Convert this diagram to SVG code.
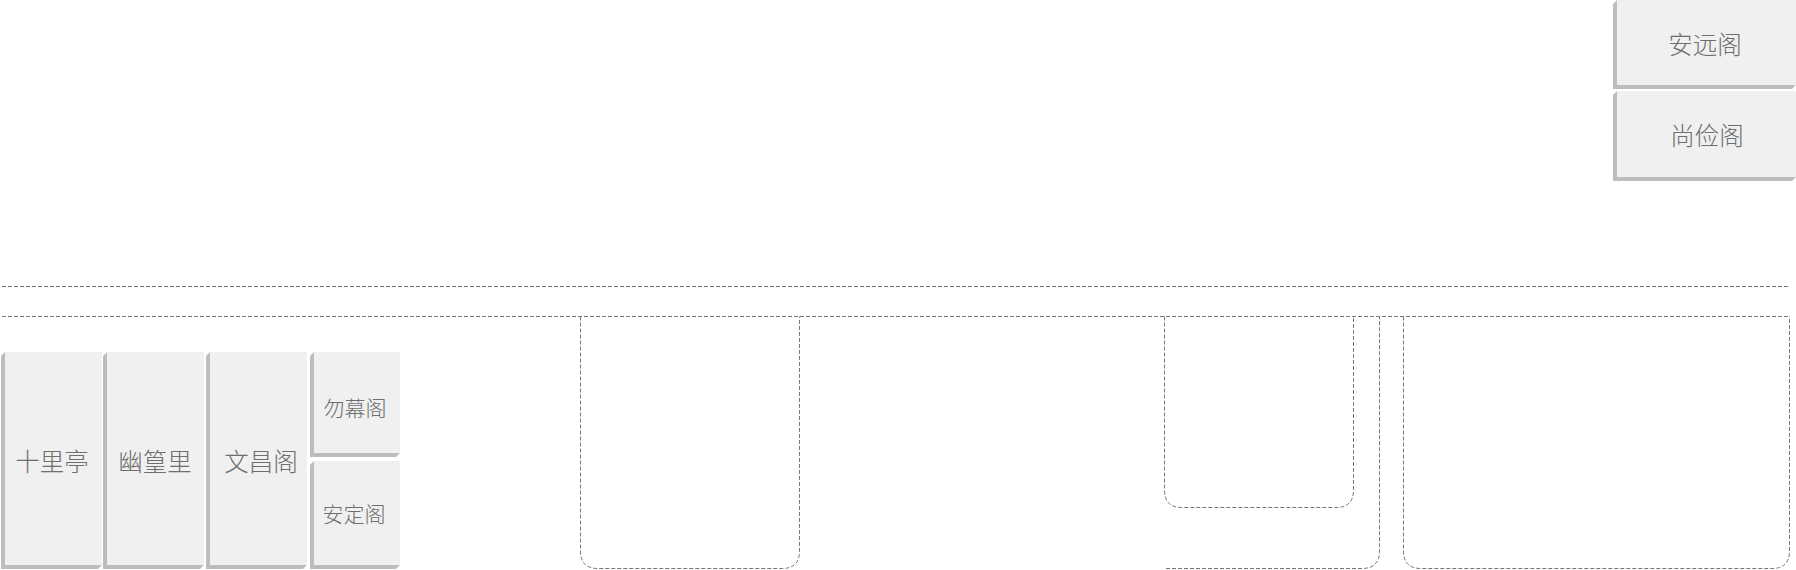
<svg xmlns="http://www.w3.org/2000/svg" width="1796" height="570" viewBox="0 0 1796 570">
<style>
.body{fill:#f0f0f0}
.shadow{fill:#bdbdbd}
.lbl{font-family:"Noto Sans CJK SC","Noto Sans",sans-serif;font-weight:300;fill:#6e6e6e;text-anchor:middle;dominant-baseline:central}
.big{font-size:24.5px}
.small{font-size:21px}
.dash{fill:none;stroke:#777;stroke-width:1;stroke-dasharray:4 2}
</style>
<rect width="1796" height="570" fill="#fff"/>
<g id="connectors">
<path class="dash" d="M2,286.5 H1790"/>
<path class="dash" d="M2,316.5 H1789.5"/>
<path class="dash" d="M580.5,316.5 V551 Q580.5,568.5 598,568.5 H782 Q799.5,568.5 799.5,551 V316.5"/>
<path class="dash" d="M1164.5,316.5 V490 Q1164.5,507.5 1182,507.5 H1336 Q1353.5,507.5 1353.5,490 V316.5"/>
<path class="dash" d="M1166,568.5 H1362 Q1379.5,568.5 1379.5,551 V316.5"/>
<path class="dash" d="M1403.5,316.5 V551 Q1403.5,568.5 1421,568.5 H1772 Q1789.5,568.5 1789.5,551 V316.5"/>
</g>
<g id="anyuange">
<polygon class="shadow" points="1617,0 1613,4 1613,89 1792,89 1796,85"/>
<rect class="body" x="1617" y="0" width="179" height="85"/>
<text class="lbl big" x="1705" y="43">安远阁</text>
</g>
<g id="shangjiange">
<polygon class="shadow" points="1617,91 1613,95 1613,181 1792,181 1796,177"/>
<rect class="body" x="1617" y="91" width="179" height="86"/>
<text class="lbl big" x="1707" y="134">尚俭阁</text>
</g>
<g id="shiliting">
<polygon class="shadow" points="5,352 1,356 1,569 98,569 102,565"/>
<rect class="body" x="5" y="352" width="97" height="213"/>
<text class="lbl big" x="52" y="460">十里亭</text>
</g>
<g id="youhuangli">
<polygon class="shadow" points="107,352 103,356 103,569 200,569 204,565"/>
<rect class="body" x="107" y="352" width="97" height="213"/>
<text class="lbl big" x="155" y="460">幽篁里</text>
</g>
<g id="wenchangge">
<polygon class="shadow" points="210,352 206,356 206,569 303,569 307,565"/>
<rect class="body" x="210" y="352" width="97" height="213"/>
<text class="lbl big" x="261" y="460">文昌阁</text>
</g>
<g id="wumuge">
<polygon class="shadow" points="314,352 310,356 310,457 396,457 400,453"/>
<rect class="body" x="314" y="352" width="86" height="101"/>
<text class="lbl small" x="355" y="407">勿幕阁</text>
</g>
<g id="andingge">
<polygon class="shadow" points="314,461 310,465 310,569 396,569 400,565"/>
<rect class="body" x="314" y="461" width="86" height="104"/>
<text class="lbl small" x="354" y="513">安定阁</text>
</g>
</svg>
